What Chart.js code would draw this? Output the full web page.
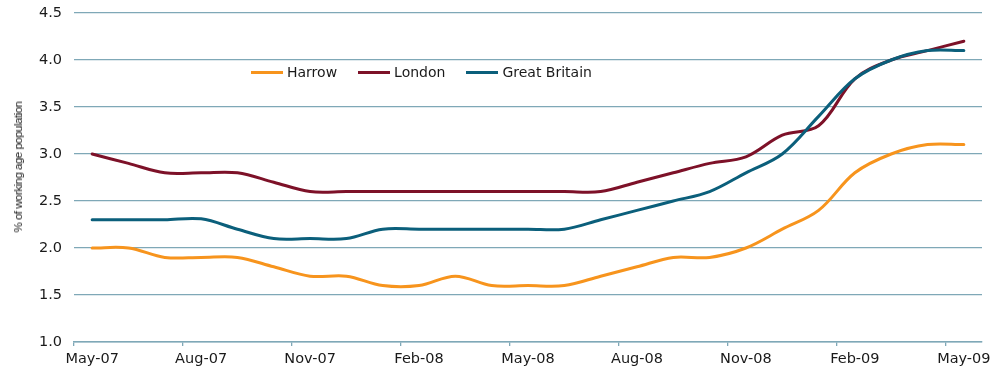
<!DOCTYPE html>
<html>
<head>
<meta charset="utf-8">
<title>Claimant rate, Harrow / London / Great Britain</title>
<script src="https://cdn.jsdelivr.net/npm/chart.js@4.4.1/dist/chart.umd.min.js"></script>
<style>
  body { margin: 0; background: #fff; }
  #wrap { position: relative; width: 999px; height: 367px; }
  #yTitle {
    position: absolute; left: 18px; top: 167px;
    transform: translate(-50%, -50%) rotate(-90deg);
    font: 11.5px "Liberation Sans", Arial, sans-serif; letter-spacing: -0.5px;
    color: #1a1a1a; white-space: nowrap;
  }
  #legend {
    position: absolute; left: 251px; top: 64px;
    display: flex; gap: 21px;
    font: 14px "DejaVu Sans", sans-serif; color: #1a1a1a;
  }
  #legend .item { display: flex; align-items: center; }
  #legend .swatch { width: 32px; height: 3px; margin-right: 4px; }
</style>
</head>
<body>
<div id="wrap">
  <canvas id="rateChart"></canvas>
  <div id="yTitle">% of working age population</div>
  <div id="legend"></div>
</div>
<script>
// monthly figures, May 2007 to May 2009
const months = ['May-07', 'Jun-07', 'Jul-07', 'Aug-07', 'Sep-07', 'Oct-07', 'Nov-07', 'Dec-07',
  'Jan-08', 'Feb-08', 'Mar-08', 'Apr-08', 'May-08', 'Jun-08', 'Jul-08', 'Aug-08', 'Sep-08',
  'Oct-08', 'Nov-08', 'Dec-08', 'Jan-09', 'Feb-09', 'Mar-09', 'Apr-09', 'May-09'];
const harrow = [2.0, 2.0, 1.9, 1.9, 1.9, 1.8, 1.7, 1.7, 1.6, 1.6, 1.7, 1.6, 1.6,
  1.6, 1.7, 1.8, 1.9, 1.9, 2.0, 2.2, 2.4, 2.8, 3.0, 3.1, 3.1];
const london = [3.0, 2.9, 2.8, 2.8, 2.8, 2.7, 2.6, 2.6, 2.6, 2.6, 2.6, 2.6, 2.6,
  2.6, 2.6, 2.7, 2.8, 2.9, 2.97, 3.2, 3.3, 3.8, 4.0, 4.1, 4.2];
const greatBritain = [2.3, 2.3, 2.3, 2.31, 2.2, 2.1, 2.1, 2.1, 2.2, 2.2, 2.2, 2.2, 2.2,
  2.2, 2.3, 2.4, 2.5, 2.6, 2.8, 3.0, 3.4, 3.8, 4.0, 4.1, 4.1];
const yMin = 1.0, yMax = 4.5, yStep = 0.5;

const gridColour = '#7fa8b7';
const tickFont = { family: 'DejaVu Sans', size: 14.5 };

const series = [
  { label: 'Harrow', data: harrow, colour: '#f7941d', order: 0 },
  { label: 'London', data: london, colour: '#7d1128', order: 2 },
  { label: 'Great Britain', data: greatBritain, colour: '#0b5f7b', order: 1 }
];

const ctx = document.getElementById('rateChart').getContext('2d');
const rateChart = new Chart(ctx, {
  type: 'line',
  data: {
    labels: months,
    datasets: series.map(s => ({
      label: s.label,
      data: s.data,
      borderColor: s.colour,
      backgroundColor: s.colour,
      order: s.order
    }))
  },
  options: {
    responsive: true,
    maintainAspectRatio: false,
    animation: false,
    layout: { padding: { top: 13, right: 17, left: 0, bottom: 0 } },
    elements: {
      point: { radius: 0 },
      line: { borderWidth: 3, tension: 0.35, borderCapStyle: 'round' }
    },
    plugins: { legend: { display: false }, tooltip: { enabled: false } },
    scales: {
      x: {
        offset: true,
        grid: {
          offset: true,
          drawOnChartArea: false,
          tickLength: 4,
          lineWidth: 1.3,
          color: c => (c.index % 3 === 0 ? gridColour : 'transparent')
        },
        border: { color: gridColour, width: 1.5 },
        ticks: {
          autoSkip: false,
          maxRotation: 0,
          padding: 5,
          color: '#1a1a1a',
          font: tickFont,
          callback: (v, i) => (i % 3 === 0 ? months[i] : '')
        },
        afterFit: s => { s.height = 25; }
      },
      y: {
        min: yMin,
        max: yMax,
        grid: { color: gridColour, lineWidth: 1.3, drawTicks: false },
        border: { display: false },
        ticks: {
          stepSize: yStep,
          padding: 12,
          color: '#1a1a1a',
          font: tickFont,
          callback: v => v.toFixed(1)
        },
        // fixed axis width; plot top comes from layout padding alone
        afterFit: s => { s.width = 74; s.paddingTop = 0; s.paddingBottom = 0; }
      }
    }
  }
});

// legend sits inside the plot, built from the datasets
const legend = document.getElementById('legend');
series.forEach(s => {
  const item = document.createElement('div');
  item.className = 'item';
  const sw = document.createElement('span');
  sw.className = 'swatch';
  sw.style.background = s.colour;
  item.appendChild(sw);
  item.appendChild(document.createTextNode(s.label));
  legend.appendChild(item);
});
</script>
</body>
</html>
